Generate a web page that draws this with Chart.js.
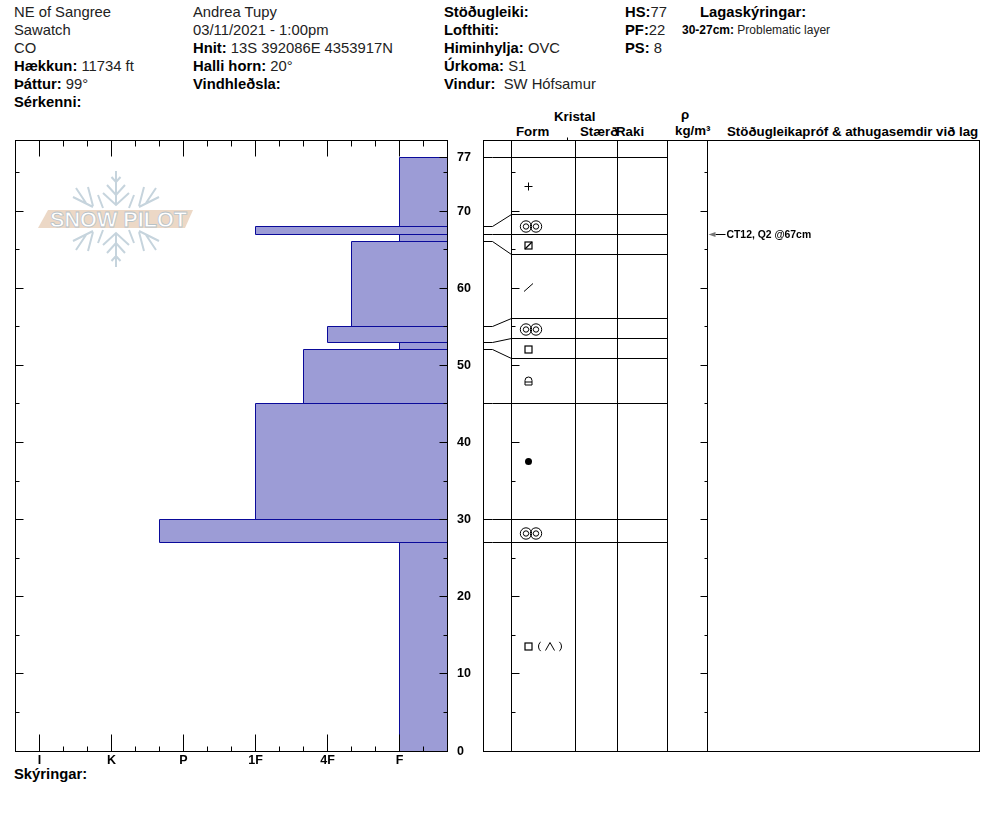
<!DOCTYPE html>
<html lang="is">
<head>
<meta charset="UTF-8">
<title>Snjógryfja - NE of Sangree</title>
<script src="https://cdn.jsdelivr.net/npm/chart.js"></script>
<style>
    body { margin: 0; background: #fff; color: #222; font-family: 'Liberation Sans', Arial, sans-serif; font-size: 14.8px; }
    #page { position: relative; width: 994px; height: 840px; overflow: hidden; }
    canvas { position: absolute; top: 120px; }
    #hardnessChart { left: 0; }
    #layerChart { left: 470px; }
    #logo { position: absolute; left: 0; top: 0; }
    .t { position: absolute; line-height: 18px; white-space: pre; }
    .t b { color: #000; }
    .h { position: absolute; line-height: 14px; font-size: 13.3px; font-weight: bold; color: #000; white-space: pre; }
</style>
</head>
<body>
<div id="page">
    <svg id="logo" width="994" height="840">
        <defs>
            <g id="half" stroke="#c6d4dd" stroke-width="2" fill="none">
                <path d="M116 171V204M111.500 177L116 182L120.500 177M107 185L116 195L125 185M103 193L116 205L129 193"/>
                <path d="M73 197L93 207M76 188L86 203M88 187L93 206M98 195L103 208"/>
                <path d="M159 197L139 207M156 188L146 203M144 187L139 206M134 195L129 208"/>
            </g>
        </defs>
        <use href="#half"/>
        <use href="#half" transform="translate(0,438) scale(1,-1)"/>
        <polygon points="48,210 193,210 185,228 38,228" fill="#ecd8c6"/>
        <text x="50" y="227" font-family="Liberation Sans" font-weight="bold" font-size="22" textLength="137" lengthAdjust="spacingAndGlyphs" fill="#fff" stroke="#b8c2c8" stroke-width="0.8">SNOW PILOT</text>
    </svg>

    <div class="t" style="left:14px;top:3px">NE of Sangree</div>
    <div class="t" style="left:14px;top:21px">Sawatch</div>
    <div class="t" style="left:14px;top:39px">CO</div>
    <div class="t" style="left:14px;top:57px"><b>Hækkun:</b> 11734 ft</div>
    <div class="t" style="left:14px;top:75px"><b>Þáttur:</b> 99°</div>
    <div class="t" style="left:14px;top:93px"><b>Sérkenni:</b></div>

    <div class="t" style="left:193px;top:3px">Andrea Tupy</div>
    <div class="t" style="left:193px;top:21px">03/11/2021 - 1:00pm</div>
    <div class="t" style="left:193px;top:39px"><b>Hnit:</b> 13S 392086E 4353917N</div>
    <div class="t" style="left:193px;top:57px"><b>Halli horn:</b> 20°</div>
    <div class="t" style="left:193px;top:75px"><b>Vindhleðsla:</b></div>

    <div class="t" style="left:444px;top:3px"><b>Stöðugleiki:</b></div>
    <div class="t" style="left:444px;top:21px"><b>Lofthiti:</b></div>
    <div class="t" style="left:444px;top:39px"><b>Himinhylja:</b> OVC</div>
    <div class="t" style="left:444px;top:57px"><b>Úrkoma:</b> S1</div>
    <div class="t" style="left:444px;top:75px"><b>Vindur:</b>  SW Hófsamur</div>

    <div class="t" style="left:625px;top:3px"><b>HS:</b>77</div>
    <div class="t" style="left:625px;top:21px"><b>PF:</b>22</div>
    <div class="t" style="left:625px;top:39px"><b>PS:</b> 8</div>

    <div class="t" style="left:700px;top:3px"><b>Lagaskýringar:</b></div>
    <div class="t" style="left:682px;top:21px;font-size:12px"><b>30-27cm:</b> Problematic layer</div>

    <div class="h" style="left:554px;top:110px">Kristal</div>
    <div class="h" style="left:516px;top:125px">Form</div>
    <div class="h" style="left:580px;top:125px">Stærð</div>
    <div class="h" style="left:616px;top:125px">Raki</div>
    <div class="h" style="left:681px;top:108px">ρ</div>
    <div class="h" style="left:675px;top:124px">kg/m³</div>
    <div class="h" style="left:727px;top:125px">Stöðugleikapróf &amp; athugasemdir við lag</div>

    <div class="t" style="left:14px;top:765px"><b>Skýringar:</b></div>

    <canvas id="hardnessChart" width="480" height="680"></canvas>
    <canvas id="layerChart" width="524" height="680"></canvas>
</div>

<script>
// Hardness index: F=1, 4F=2, 1F=3, P=4, K=5, I=6
const hardnessLabels = { 6: "I", 5: "K", 4: "P", 3: "1F", 2: "4F", 1: "F" };
const hardnessMajor = [6, 5, 4, 3, 2, 1];
const hardnessMinor = [6.333, 5.667, 5.333, 4.667, 4.333, 3.667, 3.333, 2.667, 2.333, 1.667, 1.333, 0.667, 0.333];

// Snow layers, top to bottom (cm)
const layerTop = [77, 68, 67, 66, 55, 53, 52, 45, 30, 27];
const layerBottom = [68, 67, 66, 55, 53, 52, 45, 30, 27, 0];
const layerHardness = [1, 3, 1, 1.667, 2, 1, 2.333, 3, 4.333, 1];

// Layer edges in the crystal table: real depth and where the row is drawn
const edgeDepth = [77, 68, 67, 66, 55, 53, 52, 45, 30, 27];
const edgeRowDepth = [77, 69.55, 67, 64.4, 56.1, 53.5, 50.9, 45, 30, 27];

const depthLabels = [0, 10, 20, 30, 40, 50, 60, 70, 77];
const depthMajor = [10, 20, 30, 40, 50, 60, 70];
const depthMinor = [5, 15, 25, 35, 45, 55, 65, 75];

const grainRows = [73.25, 68.05, 65.6, 60.15, 54.6, 52.1, 47.85, 37.6, 28.25, 13.5];
const grainTypes = ["plus", "rounds", "boxSlash", "slash", "rounds", "box", "lock", "dot", "rounds", "boxDepth"];

const testDepth = 67;
const testLabel = "CT12, Q2 @67cm";

const DEPTH_MAX = 79.207;
const HARD_MIN = 0.333, HARD_MAX = 6.333;
const COLS = [28, 92, 134, 184, 224]; // table columns, px from the left of the frame
const FILL = "#9c9cd6", EDGE = "#0a0a9a";

// keeps 1px lines on whole pixels like the original plot
class SnapScale extends Chart.LinearScale {
    static id = "snap";
    static defaults = Chart.LinearScale.defaults;
    getPixelForValue(v) {
        return Math.floor(super.getPixelForValue(v) + 0.1) + 0.5;
    }
}
Chart.register(SnapScale);

Chart.defaults.font.family = "'Liberation Sans', Arial, sans-serif";
Chart.defaults.animation = false;

function stroke(ctx, x1, y1, x2, y2) {
    ctx.beginPath();
    ctx.moveTo(x1, y1);
    ctx.lineTo(x2, y2);
    ctx.stroke();
}

const framePlugin = {
    id: "frame",
    afterDatasetsDraw(chart) {
        const a = chart.chartArea, ctx = chart.ctx;
        const x = chart.scales.x, y = chart.scales.y;
        const l = Math.floor(a.left) + 0.5, r = Math.floor(a.right) + 0.5;
        const t = Math.floor(a.top) + 0.5, b = Math.floor(a.bottom) + 0.5;
        ctx.save();
        ctx.strokeStyle = "#000";
        ctx.lineWidth = 1;
        ctx.strokeRect(l, t, r - l, b - t);
        if (chart.canvas.id === "hardnessChart") {
            hardnessMajor.forEach(v => {
                const p = x.getPixelForValue(v);
                stroke(ctx, p, t, p, t + 16);
                stroke(ctx, p, b, p, b - 17);
            });
            hardnessMinor.forEach(v => {
                const p = x.getPixelForValue(v);
                stroke(ctx, p, t, p, t + 6);
                stroke(ctx, p, b, p, b - 5);
            });
            depthMajor.forEach(v => {
                const p = y.getPixelForValue(v);
                stroke(ctx, l, p, l + 8, p);
                stroke(ctx, r, p, r - 8, p);
            });
            depthMinor.forEach(v => {
                const p = y.getPixelForValue(v);
                stroke(ctx, l, p, l + 4, p);
                stroke(ctx, r, p, r - 4, p);
            });
            const p77 = y.getPixelForValue(77);
            stroke(ctx, r, p77, r - 8, p77);
        } else {
            const form = x.getPixelForValue(COLS[0]), rho = x.getPixelForValue(COLS[4]);
            depthMajor.forEach(v => {
                const p = y.getPixelForValue(v);
                stroke(ctx, form, p, form + 8, p);
                stroke(ctx, rho, p, rho - 7, p);
            });
            depthMinor.forEach(v => {
                const p = y.getPixelForValue(v);
                stroke(ctx, form, p, form + 4, p);
                stroke(ctx, rho, p, rho - 3, p);
            });
            // small mark above the size column
            const mark = x.getPixelForValue(84);
            stroke(ctx, mark, t - 3, mark, t);
            // stability test marker
            const py = y.getPixelForValue(testDepth);
            stroke(ctx, rho + 8, py, rho + 18, py);
            ctx.fillStyle = "#777";
            ctx.beginPath();
            ctx.moveTo(rho + 1, py);
            ctx.lineTo(rho + 8, py - 2.5);
            ctx.lineTo(rho + 8, py + 2.5);
            ctx.closePath();
            ctx.fill();
            ctx.fillStyle = "#000";
            ctx.font = "bold 10.4px 'Liberation Sans', Arial, sans-serif";
            ctx.textBaseline = "middle";
            ctx.fillText(testLabel, rho + 19, py + 1);
        }
        ctx.restore();
    }
};

// Left plot: one closed outline per layer, filled back to the right edge
const layerDatasets = layerTop.map((top, i) => ({
    data: [
        { x: HARD_MIN, y: layerBottom[i] },
        { x: layerHardness[i], y: layerBottom[i] },
        { x: layerHardness[i], y: top },
        { x: HARD_MIN, y: top }
    ],
    borderColor: EDGE,
    borderWidth: 1,
    backgroundColor: FILL,
    fill: { value: HARD_MIN },
    pointRadius: 0,
    tension: 0
}));

new Chart(document.getElementById("hardnessChart"), {
    type: "line",
    data: { datasets: layerDatasets },
    plugins: [framePlugin],
    options: {
        indexAxis: "y",
        responsive: false,
        devicePixelRatio: 1,
        layout: { padding: { left: 15, right: 0, top: 20, bottom: 19 } },
        plugins: { legend: { display: false }, tooltip: { enabled: false } },
        scales: {
            x: {
                type: "snap",
                reverse: true,
                min: HARD_MIN,
                max: HARD_MAX,
                afterBuildTicks: s => { s.ticks = hardnessMajor.map(v => ({ value: v })); },
                afterFit: s => { s.height = 30; },
                grid: { display: false, drawTicks: false },
                border: { display: false },
                ticks: {
                    autoSkip: false,
                    maxRotation: 0,
                    color: "#000",
                    padding: 2,
                    font: { size: 12.5, weight: "bold" },
                    callback: v => hardnessLabels[v]
                }
            },
            y: {
                type: "snap",
                position: "right",
                min: 0,
                max: DEPTH_MAX,
                afterBuildTicks: s => { s.ticks = depthLabels.map(v => ({ value: v })); },
                afterFit: s => { s.width = 33; },
                grid: { display: false, drawTicks: false },
                border: { display: false },
                ticks: {
                    autoSkip: false,
                    color: "#000",
                    padding: 10,
                    font: { size: 12.5, weight: "bold" }
                }
            }
        }
    }
});

// Crystal symbols as point images
function grainIcon(type) {
    const c = document.createElement("canvas");
    c.width = 71;
    c.height = 21;
    const g = c.getContext("2d");
    g.translate(35.5, 10.5);
    g.strokeStyle = g.fillStyle = "#000";
    g.lineWidth = 1;
    const ring = (cx, r) => { g.beginPath(); g.arc(cx, 0, r, 0, Math.PI * 2); g.stroke(); };
    const line = (a, b, c2, d) => stroke(g, a, b, c2, d);
    if (type === "plus") {
        line(-4, 0, 4, 0);
        line(0, -4, 0, 4);
    } else if (type === "rounds") {
        [-2.5, 7.5].forEach(cx => { ring(cx, 5.7); ring(cx, 2.7); });
    } else if (type === "boxSlash") {
        g.lineWidth = 1.2;
        g.strokeRect(-3.5, -3.5, 7, 7);
        line(-3.5, 3.5, 3.5, -3.5);
    } else if (type === "slash") {
        line(-4.5, 4, 4.5, -4);
    } else if (type === "box") {
        g.lineWidth = 1.2;
        g.strokeRect(-3.5, -3.5, 7, 7);
    } else if (type === "lock") {
        g.beginPath();
        g.moveTo(-3.5, 3.5);
        g.lineTo(-3.5, -1);
        g.arc(0, -1, 3.5, Math.PI, 0);
        g.lineTo(3.5, 3.5);
        g.closePath();
        g.moveTo(-3.5, 0.5);
        g.lineTo(3.5, 0.5);
        g.stroke();
    } else if (type === "dot") {
        g.beginPath();
        g.arc(0, 0, 3.5, 0, Math.PI * 2);
        g.fill();
    } else if (type === "boxDepth") {
        g.lineWidth = 1.2;
        g.strokeRect(-3.5, -3.5, 7, 7);
        g.lineWidth = 1;
        g.beginPath();
        g.arc(16, 0, 6, Math.PI * 0.72, Math.PI * 1.28);
        g.stroke();
        g.beginPath();
        g.arc(27, 0, 6, -Math.PI * 0.28, Math.PI * 0.28);
        g.stroke();
        line(17, 4, 21.5, -4);
        line(21.5, -4, 26, 4);
    }
    return c;
}

const columnDatasets = COLS.map(c => ({
    data: [{ x: c, y: 0 }, { x: c, y: DEPTH_MAX }],
    showLine: true,
    borderColor: "#000",
    borderWidth: 1,
    pointRadius: 0
}));

const edgeDatasets = edgeDepth.map((d, i) => ({
    data: [{ x: 0, y: d }, { x: 9, y: d }, { x: COLS[0], y: edgeRowDepth[i] }, { x: COLS[3], y: edgeRowDepth[i] }],
    showLine: true,
    borderColor: "#000",
    borderWidth: 1,
    pointRadius: 0
}));

const grainDataset = {
    data: grainRows.map(d => ({ x: 45, y: d })),
    showLine: false,
    pointStyle: grainTypes.map(grainIcon),
    pointRadius: 10
};

new Chart(document.getElementById("layerChart"), {
    type: "scatter",
    data: { datasets: [...columnDatasets, ...edgeDatasets, grainDataset] },
    plugins: [framePlugin],
    options: {
        responsive: false,
        devicePixelRatio: 1,
        layout: { padding: { left: 13, right: 15, top: 20, bottom: 49 } },
        plugins: { legend: { display: false }, tooltip: { enabled: false } },
        scales: {
            x: { type: "snap", display: false, min: 0, max: 496 },
            y: { type: "snap", display: false, min: 0, max: DEPTH_MAX }
        }
    }
});
</script>
</body>
</html>
